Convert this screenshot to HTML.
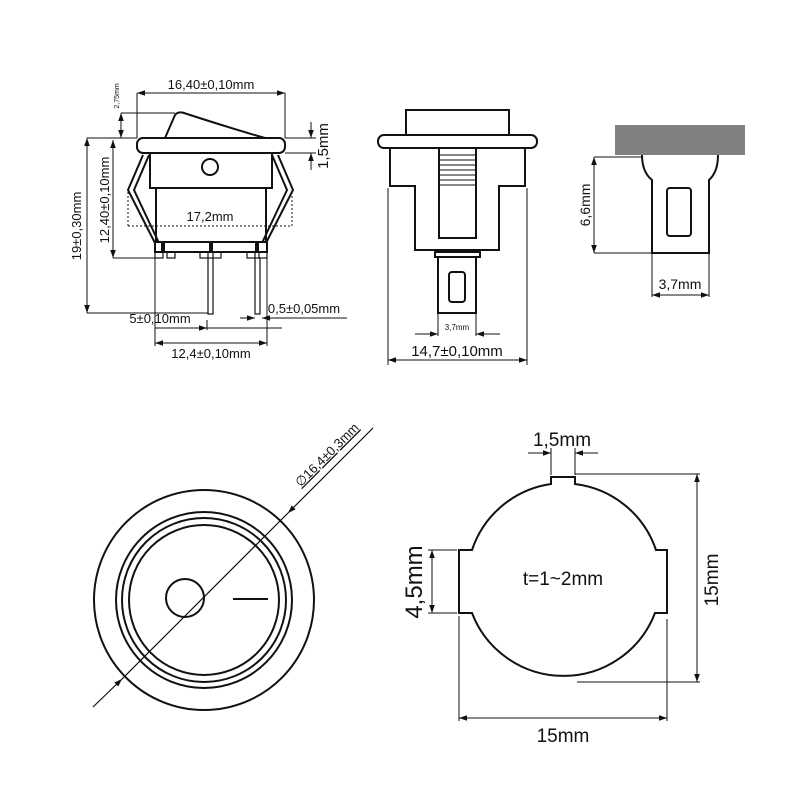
<!DOCTYPE html>
<html><head><meta charset="utf-8"><style>html,body{margin:0;padding:0;background:#fff}svg{display:block}</style></head>
<body>
<svg width="800" height="800" viewBox="0 0 800 800" xmlns="http://www.w3.org/2000/svg" font-family="Liberation Sans, sans-serif" fill="none" stroke="#111">
<defs>
<marker id="a" viewBox="0 0 10 10" refX="10" refY="5" markerWidth="8" markerHeight="8" orient="auto-start-reverse" markerUnits="userSpaceOnUse"><path d="M0,1.5 L10,5 L0,8.5z" fill="#111" stroke="none"/></marker>
</defs>
<!-- ===== top-left switch ===== -->
<g stroke-width="1">
<line x1="137" y1="93" x2="285" y2="93" marker-start="url(#a)" marker-end="url(#a)"/>
<line x1="137" y1="93" x2="137" y2="138"/><line x1="285" y1="93" x2="285" y2="138"/>
<line x1="121" y1="113" x2="175" y2="113"/>
<line x1="121" y1="113" x2="121" y2="138" marker-start="url(#a)" marker-end="url(#a)"/>
<line x1="121" y1="138" x2="137" y2="138"/>
<line x1="285" y1="138" x2="316" y2="138"/><line x1="285" y1="153" x2="316" y2="153"/>
<line x1="311" y1="122" x2="311" y2="138" marker-end="url(#a)"/>
<line x1="311" y1="170" x2="311" y2="153" marker-end="url(#a)"/>
<line x1="87" y1="138" x2="137" y2="138"/>
<line x1="87" y1="138" x2="87" y2="313" marker-start="url(#a)" marker-end="url(#a)"/>
<line x1="87" y1="313" x2="208" y2="313"/>
<line x1="113" y1="140" x2="113" y2="258" marker-start="url(#a)" marker-end="url(#a)"/>
<line x1="113" y1="258" x2="155" y2="258"/>
<line x1="155" y1="258" x2="155" y2="346"/><line x1="267" y1="258" x2="267" y2="346"/>
<line x1="155" y1="328" x2="207" y2="328" marker-end="url(#a)"/>
<line x1="207" y1="320" x2="207" y2="330"/>
<line x1="207" y1="328" x2="282" y2="328"/>
<line x1="240" y1="318" x2="255" y2="318" marker-end="url(#a)"/>
<line x1="280" y1="318" x2="262" y2="318" marker-end="url(#a)"/>
<line x1="262" y1="318" x2="347" y2="318"/>
<line x1="155" y1="343" x2="267" y2="343" marker-start="url(#a)" marker-end="url(#a)"/>
<line x1="128" y1="226" x2="292" y2="226" stroke-dasharray="2,2"/>
<line x1="128" y1="192" x2="128" y2="226" stroke-dasharray="2,2"/>
<line x1="292" y1="192" x2="292" y2="226" stroke-dasharray="2,2"/>
</g>
<g stroke-width="2">
<path d="M165,138 L175,115 Q178,111 184,113 Q230,128 265,138"/>
<rect x="137" y="138" width="148" height="15" rx="6"/>
<rect x="150" y="153" width="122" height="35"/>
<circle cx="210" cy="167" r="8"/>
<rect x="156" y="188" width="110" height="54"/>
<rect x="155" y="242" width="112" height="10"/>
<path d="M143,155 L128,190 L155,243 M149,155 L134,190 L159,243"/>
<path d="M278,155 L293,190 L266,243 M272,155 L287,190 L262,243"/>
</g>
<g stroke-width="1.2">
<rect x="155" y="252" width="8" height="6"/><rect x="167" y="252" width="8" height="6"/>
<rect x="200" y="252" width="8" height="6"/><rect x="213" y="252" width="8" height="6"/>
<rect x="247" y="252" width="8" height="6"/><rect x="259" y="252" width="8" height="6"/>
<rect x="208" y="258" width="5" height="56"/><rect x="255" y="258" width="5" height="56"/>
</g>
<g fill="#111" stroke="none">
<rect x="161" y="242" width="4" height="10"/><rect x="209" y="242" width="4" height="10"/><rect x="255" y="242" width="4" height="10"/>
</g>
<g fill="#111" stroke="none" font-size="13">
<text x="211" y="89" text-anchor="middle">16,40±0,10mm</text>
<text x="210" y="221" text-anchor="middle">17,2mm</text>
<text x="160" y="323" text-anchor="middle">5±0,10mm</text>
<text x="304" y="313" text-anchor="middle">0,5±0,05mm</text>
<text x="211" y="358" text-anchor="middle">12,4±0,10mm</text>
<text transform="translate(119,96) rotate(-90)" font-size="7" text-anchor="middle">2,75mm</text>
<text transform="translate(328,146) rotate(-90)" font-size="15" text-anchor="middle">1,5mm</text>
<text transform="translate(109,200) rotate(-90)" text-anchor="middle">12,40±0,10mm</text>
<text transform="translate(81,226) rotate(-90)" text-anchor="middle">19±0,30mm</text>
</g>
<!-- ===== middle switch ===== -->
<g stroke-width="2">
<rect x="406" y="110" width="103" height="25"/>
<rect x="378" y="135" width="159" height="13" rx="6"/>
<path d="M390,148 L390,186 L415,186 L415,250 L499,250 L499,186 L525,186 L525,148"/>
<rect x="439" y="148" width="37" height="90"/>
<rect x="435" y="252" width="45" height="5"/>
<rect x="438" y="257" width="38" height="56"/>
<rect x="449" y="272" width="16" height="30" rx="3"/>
</g>
<g stroke-width="1">
<path d="M440,155 H475 M440,160 H475 M440,165 H475 M440,170 H475 M440,175 H475 M440,180 H475 M440,185 H475"/>
<line x1="438" y1="313" x2="438" y2="336"/><line x1="476" y1="313" x2="476" y2="336"/>
<line x1="415" y1="334" x2="438" y2="334" marker-end="url(#a)"/>
<line x1="500" y1="334" x2="476" y2="334" marker-end="url(#a)"/>
<line x1="388" y1="188" x2="388" y2="365"/><line x1="527" y1="188" x2="527" y2="365"/>
<line x1="388" y1="360" x2="527" y2="360" marker-start="url(#a)" marker-end="url(#a)"/>
</g>
<g fill="#111" stroke="none">
<text x="457" y="330" font-size="8" text-anchor="middle">3,7mm</text>
<text x="457" y="356" font-size="15" text-anchor="middle">14,7±0,10mm</text>
</g>
<!-- ===== right terminal ===== -->
<rect x="615" y="125" width="130" height="30" fill="#808080" stroke="none"/>
<g stroke-width="2">
<path d="M642,155 Q642,172 652,180 L652,253 L709,253 L709,180 Q718,172 718,155"/>
<rect x="667" y="188" width="24" height="48" rx="3"/>
</g>
<g stroke-width="1">
<line x1="594" y1="157" x2="642" y2="157"/><line x1="594" y1="253" x2="652" y2="253"/>
<line x1="594" y1="157" x2="594" y2="253" marker-start="url(#a)" marker-end="url(#a)"/>
<line x1="652" y1="253" x2="652" y2="297"/><line x1="709" y1="253" x2="709" y2="297"/>
<line x1="652" y1="295" x2="709" y2="295" marker-start="url(#a)" marker-end="url(#a)"/>
</g>
<g fill="#111" stroke="none" font-size="14">
<text transform="translate(590,205) rotate(-90)" text-anchor="middle">6,6mm</text>
<text x="680" y="289" text-anchor="middle">3,7mm</text>
</g>
<!-- ===== bottom-left circle ===== -->
<g stroke-width="2">
<circle cx="204" cy="600" r="110"/>
<circle cx="204" cy="600" r="88"/>
<circle cx="204" cy="600" r="82"/>
<circle cx="204" cy="600" r="75"/>
<circle cx="185" cy="598" r="19"/>
<line x1="233" y1="599" x2="268" y2="599"/>
</g>
<g stroke-width="1.2">
<line x1="93" y1="707" x2="122" y2="679" marker-end="url(#a)"/>
<line x1="122" y1="679" x2="288" y2="513"/>
<line x1="373" y1="428" x2="288" y2="513" marker-end="url(#a)"/>
</g>
<text transform="translate(330,458) rotate(-45)" fill="#111" stroke="none" font-size="13" text-anchor="middle" text-decoration="underline">∅16,4±0,3mm</text>
<!-- ===== bottom-right plate ===== -->
<path stroke-width="2" d="M551,484 L551,477 L575,477 L575,484 A98,98 0 0 1 656,550 L667,550 L667,613 L655,613 A98,98 0 0 1 472,613 L459,613 L459,550 L472,550 A98,98 0 0 1 551,484 Z"/>
<g stroke-width="1">
<line x1="551" y1="448" x2="551" y2="475"/><line x1="575" y1="448" x2="575" y2="475"/>
<line x1="528" y1="453" x2="551" y2="453" marker-end="url(#a)"/>
<line x1="598" y1="453" x2="575" y2="453" marker-end="url(#a)"/>
<line x1="575" y1="474" x2="700" y2="474"/><line x1="577" y1="682" x2="700" y2="682"/>
<line x1="697" y1="474" x2="697" y2="682" marker-start="url(#a)" marker-end="url(#a)"/>
<line x1="428" y1="550" x2="457" y2="550"/><line x1="428" y1="613" x2="457" y2="613"/>
<line x1="432" y1="550" x2="432" y2="613" marker-start="url(#a)" marker-end="url(#a)"/>
<line x1="459" y1="616" x2="459" y2="721"/><line x1="667" y1="619" x2="667" y2="721"/>
<line x1="459" y1="718" x2="667" y2="718" marker-start="url(#a)" marker-end="url(#a)"/>
</g>
<g fill="#111" stroke="none" font-size="19">
<text x="562" y="446" text-anchor="middle">1,5mm</text>
<text x="563" y="585" text-anchor="middle">t=1~2mm</text>
<text x="563" y="742" text-anchor="middle">15mm</text>
<text transform="translate(718,580) rotate(-90)" text-anchor="middle">15mm</text>
<text transform="translate(422,582) rotate(-90)" text-anchor="middle" font-size="24">4,5mm</text>
</g>
</svg>
</body></html>
